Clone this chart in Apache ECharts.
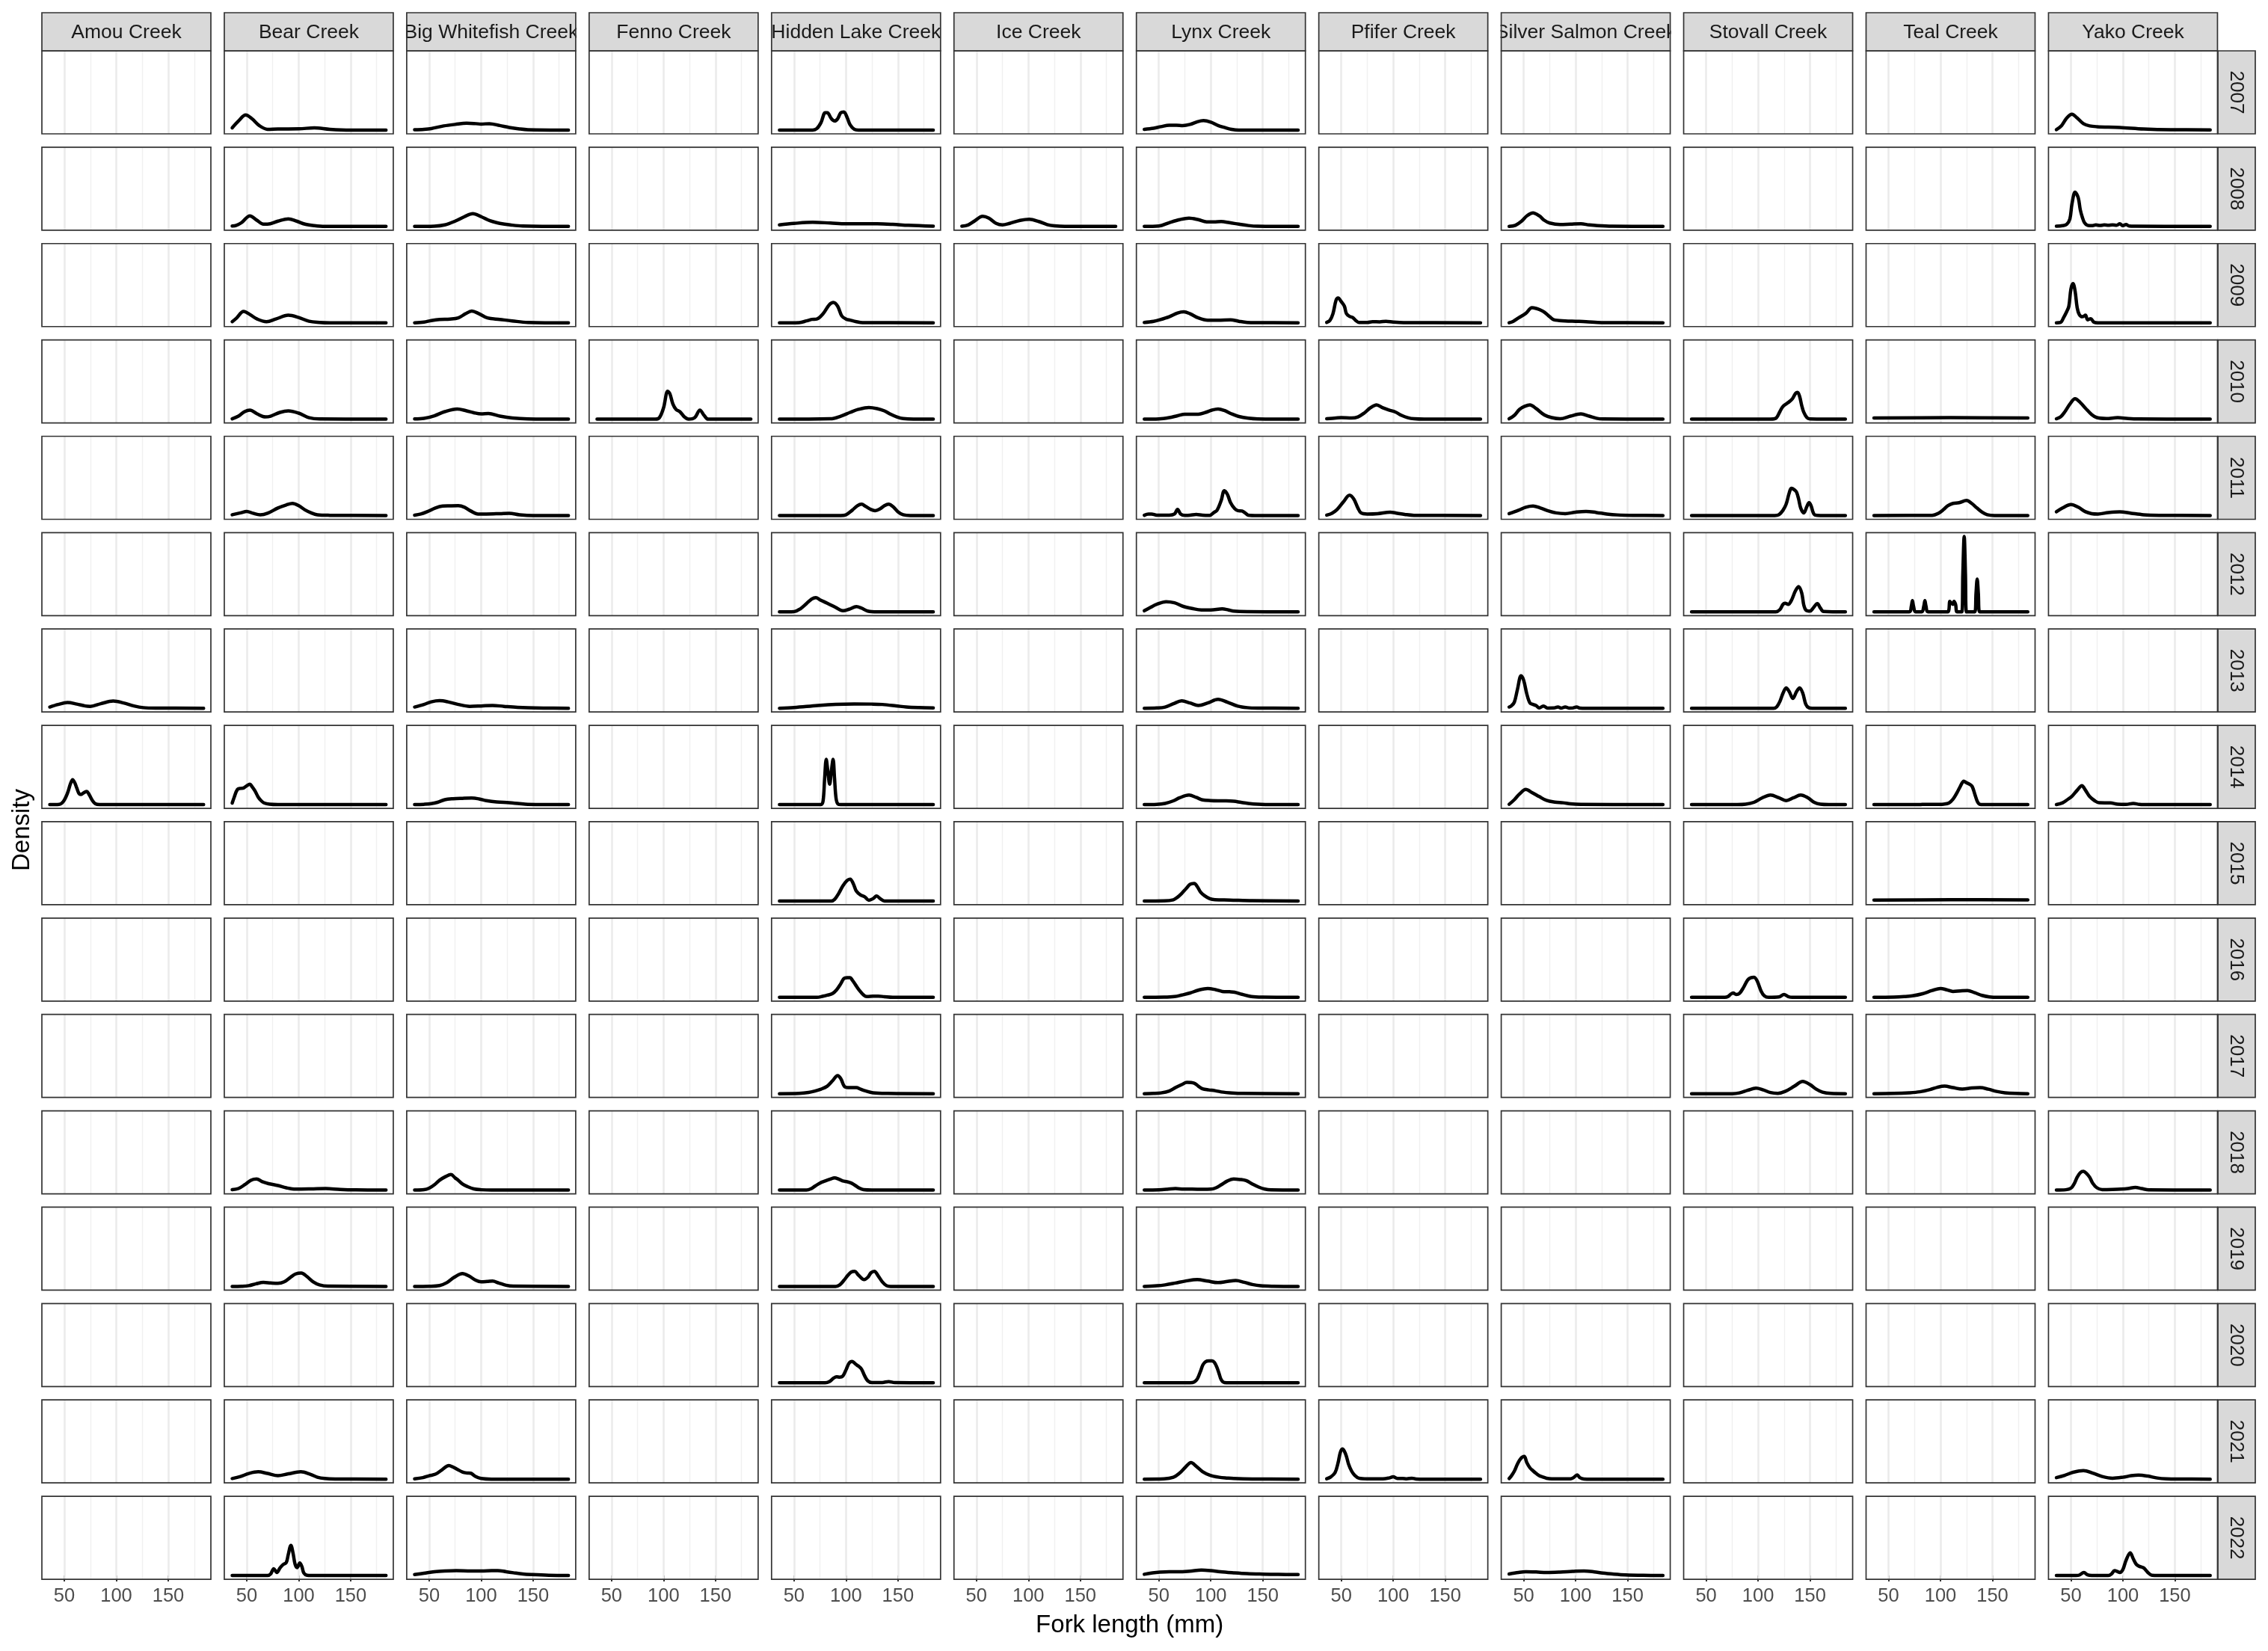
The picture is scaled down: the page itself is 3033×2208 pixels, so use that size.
<!DOCTYPE html>
<html><head><meta charset="utf-8">
<script src="https://cdn.jsdelivr.net/npm/echarts@6/dist/echarts.min.js"></script>
<style>html,body{margin:0;padding:0;background:#fff}#chart{width:3033px;height:2208px}</style>
</head><body><div id="chart"></div>
<script>
// ---------- data (y = density relative to the tallest curve) ----------
const creeks = ["Amou Creek","Bear Creek","Big Whitefish Creek","Fenno Creek","Hidden Lake Creek","Ice Creek","Lynx Creek","Pfifer Creek","Silver Salmon Creek","Stovall Creek","Teal Creek","Yako Creek"];
const years = [2007,2008,2009,2010,2011,2012,2013,2014,2015,2016,2017,2018,2019,2020,2021,2022];
const xTicks = [50,100,150];
const xMinorTicks = [75,125,175];

const amouCreek = [
  [2013, [[36,0.016],[44,0.05],[53,0.075],[62,0.055],[70,0.03],[75,0.025],[85,0.06],[97,0.095],[107,0.07],[117,0.03],[126,0.008],[140,0.002],[184,0]]],
  [2014, [[36,0],[45,0.003],[49,0.04],[53,0.15],[56,0.28],[58,0.33],[60,0.29],[62,0.22],[64,0.15],[66,0.135],[69,0.16],[71.5,0.175],[74,0.13],[77,0.055],[80,0.01],[84,0],[184,0]]]
];
const bearCreek = [
  [2007, [[36,0.03],[42,0.12],[49,0.2],[55,0.15],[62,0.06],[70,0.01],[80,0.015],[100,0.016],[115,0.03],[130,0.01],[150,0],[184,0]]],
  [2008, [[36,0.005],[40,0.015],[45,0.05],[53,0.14],[60,0.08],[66,0.03],[70,0.03],[80,0.07],[90,0.1],[98,0.07],[106,0.03],[115,0.01],[125,0],[184,0]]],
  [2009, [[36,0.015],[40,0.06],[47,0.15],[53,0.11],[60,0.05],[69,0.015],[78,0.05],[90,0.1],[100,0.07],[110,0.02],[120,0.005],[130,0],[184,0]]],
  [2010, [[36,0.005],[42,0.04],[48,0.1],[53,0.12],[60,0.07],[68,0.03],[73,0.04],[82,0.09],[90,0.11],[100,0.08],[110,0.02],[120,0.003],[184,0]]],
  [2011, [[36,0.01],[44,0.035],[50,0.055],[56,0.03],[63,0.01],[70,0.03],[80,0.1],[88,0.14],[94,0.16],[100,0.13],[106,0.075],[112,0.035],[118,0.01],[130,0.003],[184,0]]],
  [2014, [[36,0.02],[38,0.1],[41,0.2],[44,0.215],[47,0.22],[50,0.25],[53,0.27],[55,0.24],[58,0.18],[61,0.1],[64,0.05],[67,0.02],[72,0.005],[80,0],[184,0]]],
  [2018, [[36,0.005],[42,0.02],[48,0.07],[54,0.13],[59.5,0.146],[65,0.11],[71,0.085],[80,0.06],[88,0.03],[97,0.012],[112,0.015],[126,0.02],[140,0.008],[155,0.002],[184,0]]],
  [2019, [[36,0],[45,0.002],[52,0.01],[59,0.035],[66,0.053],[73,0.045],[80,0.04],[86,0.06],[92,0.12],[97,0.165],[102.5,0.178],[108,0.13],[114,0.06],[120,0.02],[128,0.003],[184,0]]],
  [2021, [[36,0.008],[44,0.035],[52,0.075],[61,0.097],[70,0.075],[80,0.045],[90,0.07],[102,0.097],[111,0.065],[118,0.025],[125,0.008],[135,0.002],[184,0]]],
  [2022, [[36,0],[70,0],[73,0.02],[76,0.09],[79,0.04],[82,0.1],[85,0.145],[88,0.17],[90,0.28],[92.5,0.4],[94.5,0.3],[96.5,0.15],[98.5,0.105],[101,0.165],[103,0.12],[105,0.03],[108,0.003],[112,0],[184,0]]]
];
const bigWhitefishCreek = [
  [2007, [[36,0.005],[45,0.01],[52,0.02],[64,0.055],[75,0.075],[86,0.09],[95,0.085],[100,0.08],[108,0.085],[118,0.06],[127,0.035],[137,0.015],[145,0.005],[184,0]]],
  [2008, [[36,0],[55,0.003],[65,0.02],[75,0.07],[84,0.13],[92,0.17],[100,0.13],[106,0.09],[111,0.065],[118,0.04],[128,0.02],[140,0.005],[184,0]]],
  [2009, [[36,0],[45,0.01],[52,0.03],[60,0.045],[70,0.05],[78,0.065],[85,0.12],[91,0.155],[98,0.12],[106,0.065],[118,0.045],[130,0.025],[145,0.005],[184,0]]],
  [2010, [[36,0.003],[45,0.01],[55,0.045],[65,0.1],[77,0.135],[86,0.11],[93,0.085],[100,0.07],[107,0.075],[118,0.04],[130,0.015],[145,0.003],[184,0]]],
  [2011, [[36,0.005],[42,0.02],[48,0.05],[56,0.1],[63,0.125],[70,0.128],[78,0.13],[84,0.11],[90,0.06],[97,0.02],[105,0.02],[118,0.025],[127,0.03],[137,0.01],[150,0],[184,0]]],
  [2013, [[36,0.016],[45,0.05],[52,0.085],[60,0.1],[68,0.085],[78,0.05],[89,0.025],[100,0.03],[111,0.037],[122,0.025],[135,0.012],[145,0.006],[160,0.002],[184,0]]],
  [2014, [[36,0],[45,0.004],[52,0.012],[58,0.03],[65,0.065],[73,0.078],[82,0.083],[91,0.086],[98,0.075],[105,0.053],[115,0.035],[127,0.025],[137,0.012],[145,0.004],[184,0]]],
  [2018, [[36,0],[45,0.005],[50,0.025],[55,0.07],[60,0.13],[66,0.18],[71,0.205],[75,0.16],[78,0.13],[82,0.08],[87,0.045],[93,0.015],[100,0.004],[110,0],[184,0]]],
  [2019, [[36,0],[50,0.002],[60,0.012],[67,0.05],[74,0.12],[82,0.17],[88,0.14],[95,0.08],[100,0.06],[106,0.065],[111,0.07],[117,0.045],[124,0.015],[131,0.003],[184,0]]],
  [2021, [[36,0.004],[44,0.02],[50,0.045],[56,0.065],[62,0.12],[69,0.18],[73,0.16],[77,0.13],[82,0.095],[86,0.082],[90,0.078],[94,0.04],[100,0.008],[110,0],[184,0]]],
  [2022, [[36,0.012],[45,0.03],[55,0.05],[65,0.06],[76,0.065],[90,0.06],[100,0.06],[110,0.064],[116,0.065],[124,0.05],[131,0.036],[140,0.02],[149,0.012],[165,0.003],[184,0]]]
];
const fennoCreek = [
  [2010, [[36,0],[92,0],[96,0.02],[100,0.15],[104,0.37],[106,0.34],[109,0.2],[112,0.13],[116,0.095],[120,0.03],[124,0],[130,0.02],[135,0.12],[139,0.05],[143,0],[184,0]]]
];
const hiddenLakeCreek = [
  [2007, [[36,0],[68,0],[72,0.02],[76,0.1],[80,0.23],[82,0.23],[86,0.15],[89,0.12],[92,0.15],[95,0.23],[98,0.24],[101,0.17],[104,0.07],[108,0.01],[112,0],[184,0]]],
  [2008, [[36,0.02],[50,0.04],[68,0.055],[85,0.045],[100,0.035],[130,0.035],[145,0.028],[160,0.015],[184,0.003]]],
  [2009, [[36,0],[55,0.003],[62,0.025],[67,0.045],[72,0.05],[78,0.12],[84,0.24],[88,0.27],[92,0.22],[96,0.09],[100,0.05],[104,0.035],[110,0.015],[116,0.003],[184,0]]],
  [2010, [[36,0],[85,0.005],[95,0.04],[104,0.09],[112,0.13],[122,0.155],[130,0.14],[137,0.11],[143,0.065],[149,0.03],[155,0.008],[165,0],[184,0]]],
  [2011, [[36,0],[95,0],[100,0.01],[106,0.07],[111,0.13],[115,0.15],[119,0.12],[124,0.08],[128,0.065],[133,0.09],[137,0.13],[141,0.15],[145,0.12],[150,0.05],[155,0.01],[162,0],[184,0]]],
  [2012, [[36,0],[50,0.003],[56,0.04],[62,0.11],[67,0.17],[71,0.19],[75,0.16],[82,0.115],[90,0.06],[97,0.015],[103,0.035],[110,0.07],[115,0.05],[121,0.01],[130,0],[184,0]]],
  [2013, [[36,0],[50,0.01],[73,0.037],[90,0.052],[108,0.057],[125,0.055],[135,0.05],[148,0.032],[158,0.016],[170,0.008],[184,0.004]]],
  [2014, [[36,0],[76,0],[78,0.05],[79.5,0.35],[81,0.6],[82.5,0.45],[84.3,0.27],[86,0.45],[87.6,0.6],[89,0.35],[90.5,0.08],[92.5,0.005],[95,0],[184,0]]],
  [2015, [[36,0],[86,0],[89,0.02],[93,0.1],[97,0.2],[101,0.27],[104,0.29],[107,0.23],[110,0.13],[114,0.08],[118,0.055],[122,0.01],[126,0.03],[129.5,0.065],[133,0.03],[137,0],[184,0]]],
  [2016, [[36,0],[72,0],[78,0.015],[82,0.028],[87,0.05],[91,0.1],[95,0.18],[98,0.25],[101,0.26],[104,0.26],[106,0.23],[109,0.17],[113,0.09],[117,0.03],[120,0.01],[126,0.015],[131,0.016],[137,0.008],[145,0],[184,0]]],
  [2017, [[36,0],[55,0.004],[64,0.016],[70,0.035],[76,0.06],[82,0.1],[87,0.17],[92,0.24],[95,0.2],[99,0.09],[104,0.08],[110,0.08],[114,0.06],[118,0.04],[126,0.012],[140,0.003],[184,0]]],
  [2018, [[36,0],[62,0],[66,0.015],[70,0.05],[75,0.093],[80,0.12],[85,0.145],[89,0.162],[93,0.145],[97,0.12],[101,0.11],[105,0.093],[109,0.06],[113,0.025],[117,0.005],[125,0],[184,0]]],
  [2019, [[36,0],[90,0],[94,0.02],[98,0.08],[102,0.15],[105,0.19],[108.5,0.2],[112,0.15],[117.5,0.09],[121,0.12],[124,0.18],[127.3,0.2],[131,0.14],[135,0.06],[139,0.01],[143,0],[184,0]]],
  [2020, [[36,0],[80,0],[84,0.015],[88,0.06],[91,0.08],[94,0.075],[97,0.09],[100,0.17],[103,0.26],[106,0.283],[109,0.25],[112,0.22],[115,0.18],[118,0.09],[121,0.025],[125,0.003],[135,0.003],[141,0.016],[147,0.002],[184,0]]]
];
const iceCreek = [
  [2008, [[36,0.003],[42,0.02],[48,0.07],[56,0.135],[62,0.11],[69,0.04],[75,0.02],[82,0.04],[92,0.08],[101,0.095],[110,0.065],[118,0.025],[125,0.008],[135,0],[184,0]]]
];
const lynxCreek = [
  [2007, [[36,0.01],[45,0.025],[52,0.045],[60,0.065],[67,0.065],[73,0.06],[80,0.075],[87,0.11],[93,0.125],[100,0.105],[107,0.06],[113,0.035],[120,0.01],[127,0],[184,0]]],
  [2008, [[36,0],[50,0.005],[60,0.05],[70,0.09],[79,0.11],[88,0.09],[96,0.06],[103,0.06],[110,0.065],[118,0.05],[127,0.03],[136,0.012],[145,0.003],[184,0]]],
  [2009, [[36,0.005],[45,0.02],[51,0.04],[60,0.08],[68,0.13],[74,0.145],[80,0.12],[88,0.065],[97,0.035],[107,0.035],[119,0.04],[127,0.02],[135,0.005],[145,0.002],[184,0]]],
  [2010, [[36,0],[50,0.003],[60,0.02],[68,0.045],[75,0.065],[88,0.065],[95,0.09],[101,0.12],[107,0.135],[113,0.115],[120,0.07],[127,0.035],[136,0.012],[145,0.003],[184,0]]],
  [2011, [[36,0.003],[40,0.02],[43,0.02],[48,0.005],[60,0.005],[65,0.02],[68,0.08],[71,0.02],[75,0.003],[80,0.005],[86,0.015],[92,0.005],[99,0.003],[103,0.04],[106,0.07],[110,0.2],[113,0.33],[116,0.28],[119,0.17],[123,0.09],[126,0.065],[130,0.06],[133,0.035],[136,0.005],[145,0],[184,0]]],
  [2012, [[36,0.015],[42,0.06],[48,0.1],[57,0.135],[65,0.12],[73,0.075],[82,0.045],[91,0.025],[100,0.025],[111,0.04],[117,0.025],[122,0.01],[135,0.003],[184,0]]],
  [2013, [[36,0],[48,0.004],[56,0.016],[64,0.06],[72,0.098],[80,0.07],[88,0.037],[97,0.07],[107,0.118],[116,0.08],[126,0.028],[135,0.008],[145,0.002],[184,0]]],
  [2014, [[36,0],[48,0.003],[56,0.016],[64,0.05],[70,0.09],[79,0.127],[86,0.095],[92,0.062],[100,0.053],[112,0.05],[122,0.045],[129,0.03],[136,0.016],[145,0.005],[160,0],[184,0]]],
  [2015, [[36,0],[55,0.002],[64,0.016],[68,0.05],[72,0.1],[76,0.16],[80,0.22],[84,0.233],[87,0.19],[90,0.12],[94,0.07],[99,0.03],[104,0.016],[118,0.012],[140,0.004],[184,0]]],
  [2016, [[36,0],[55,0.002],[65,0.01],[72,0.03],[80,0.057],[88,0.095],[97,0.118],[105,0.1],[111,0.078],[118,0.074],[123,0.068],[130,0.04],[139,0.01],[150,0.002],[184,0]]],
  [2017, [[36,0],[45,0.003],[52,0.01],[60,0.035],[66,0.08],[72,0.12],[77,0.15],[84,0.14],[88,0.1],[92,0.065],[98,0.05],[104,0.04],[112,0.02],[118,0.012],[130,0.003],[184,0]]],
  [2018, [[36,0],[50,0.003],[58,0.01],[66,0.02],[74,0.012],[82,0.012],[92,0.01],[100,0.012],[105,0.03],[110,0.07],[116,0.12],[122,0.146],[128,0.14],[134,0.125],[140,0.08],[146,0.04],[152,0.012],[158,0.002],[184,0]]],
  [2019, [[36,0],[48,0.008],[56,0.02],[66,0.045],[76,0.072],[87,0.09],[97,0.07],[107,0.05],[116,0.065],[124,0.077],[132,0.055],[140,0.025],[148,0.008],[160,0.002],[184,0]]],
  [2020, [[36,0],[80,0],[84,0.01],[87,0.05],[90,0.15],[92.5,0.24],[95,0.28],[98,0.29],[101,0.29],[103.5,0.27],[106,0.2],[108,0.12],[110,0.04],[113,0.003],[118,0],[184,0]]],
  [2021, [[36,0],[55,0.003],[64,0.024],[70,0.08],[75,0.15],[81,0.22],[86,0.17],[92,0.1],[99,0.053],[108,0.025],[116,0.014],[122,0.008],[140,0.002],[184,0]]],
  [2022, [[36,0.016],[44,0.035],[51,0.045],[60,0.05],[69,0.049],[80,0.058],[91,0.073],[100,0.065],[109,0.049],[122,0.035],[135,0.024],[150,0.018],[165,0.014],[184,0.012]]]
];
const pfiferCreek = [
  [2009, [[36,0.005],[39,0.03],[42,0.12],[45,0.3],[47,0.33],[50,0.28],[53,0.22],[55,0.12],[58,0.085],[61,0.07],[64,0.03],[67,0.005],[75,0.005],[80,0.015],[87,0.012],[93,0.02],[100,0.01],[110,0.003],[184,0]]],
  [2010, [[36,0.005],[45,0.015],[50,0.02],[60,0.015],[66,0.03],[72,0.08],[78,0.15],[84,0.19],[90,0.15],[96,0.12],[102,0.095],[108,0.05],[114,0.02],[120,0.005],[130,0],[184,0]]],
  [2011, [[36,0.005],[41,0.03],[46,0.08],[52,0.18],[58,0.27],[62,0.22],[66,0.1],[69,0.035],[75,0.02],[85,0.025],[97,0.045],[104,0.03],[111,0.015],[120,0.003],[184,0]]],
  [2021, [[36,0.004],[40,0.03],[44,0.085],[47,0.22],[49,0.35],[51,0.4],[53,0.37],[55,0.3],[57,0.2],[60,0.105],[63,0.05],[67,0.012],[75,0.004],[90,0.004],[96,0.015],[100,0.03],[104,0.008],[109,0.01],[113,0.004],[118,0.012],[122,0.002],[130,0],[184,0]]]
];
const silverSalmonCreek = [
  [2008, [[36,0],[42,0.015],[48,0.07],[53,0.14],[59,0.18],[65,0.14],[70,0.08],[75,0.045],[85,0.025],[95,0.03],[105,0.035],[113,0.02],[121,0.01],[135,0.002],[184,0]]],
  [2009, [[36,0],[40,0.02],[45,0.065],[52,0.125],[58,0.2],[62,0.19],[66,0.17],[70,0.14],[75,0.08],[79,0.04],[90,0.025],[100,0.02],[110,0.015],[125,0.003],[184,0]]],
  [2010, [[36,0.005],[41,0.05],[46,0.13],[51,0.17],[56,0.19],[62,0.14],[70,0.055],[77,0.02],[85,0.005],[95,0.04],[105,0.07],[113,0.04],[120,0.012],[126,0.003],[184,0]]],
  [2011, [[36,0.025],[45,0.07],[52,0.11],[59,0.125],[66,0.1],[74,0.06],[81,0.035],[90,0.025],[100,0.045],[110,0.055],[120,0.04],[130,0.02],[140,0.008],[155,0.002],[184,0]]],
  [2013, [[36,0.016],[38,0.03],[41,0.08],[44,0.25],[47.5,0.43],[50,0.37],[53,0.19],[56,0.07],[59,0.05],[62,0.035],[65,0.003],[69,0.03],[73,0.002],[79,0.003],[83,0.016],[86,0.002],[90,0.016],[94,0.002],[97,0.003],[101,0.016],[104,0.002],[110,0],[184,0]]],
  [2014, [[36,0.004],[41,0.065],[46,0.14],[52,0.2],[58,0.16],[65,0.106],[72,0.055],[80,0.033],[88,0.024],[95,0.01],[105,0.003],[184,0]]],
  [2021, [[36,0.008],[38,0.04],[41,0.105],[44,0.2],[47,0.27],[50.5,0.3],[53,0.22],[56,0.15],[59,0.11],[62,0.075],[65,0.045],[68,0.03],[72,0.012],[77,0.004],[95,0.003],[98,0.02],[101.5,0.057],[104,0.02],[108,0.002],[115,0],[184,0]]],
  [2022, [[36,0.02],[45,0.04],[52,0.049],[62,0.046],[72,0.04],[85,0.045],[97,0.054],[108,0.06],[118,0.048],[126,0.032],[137,0.018],[148,0.008],[165,0.002],[184,0]]]
];
const stovallCreek = [
  [2010, [[36,0],[112,0],[117,0.01],[121,0.1],[124,0.17],[129,0.22],[133,0.27],[136,0.34],[138,0.355],[140,0.3],[142,0.18],[144,0.09],[147,0.02],[150,0.003],[184,0]]],
  [2011, [[36,0],[116,0],[120,0.01],[124,0.07],[127,0.15],[130,0.3],[132,0.36],[135,0.34],[137,0.31],[139,0.22],[141,0.1],[144,0.035],[147,0.12],[149,0.17],[151,0.13],[153,0.04],[155,0.005],[160,0],[184,0]]],
  [2012, [[36,0],[117,0],[121,0.03],[124,0.1],[126,0.115],[129,0.1],[132,0.15],[136,0.28],[139,0.335],[142,0.25],[144,0.09],[146,0.025],[150,0.01],[153,0.05],[157,0.11],[160,0.05],[163,0.005],[184,0]]],
  [2013, [[36,0],[115,0],[118,0.02],[121,0.09],[124,0.2],[127,0.27],[130,0.22],[133.5,0.13],[137,0.22],[140,0.27],[143,0.2],[146,0.05],[149,0.005],[152,0],[184,0]]],
  [2014, [[36,0],[80,0],[88,0.005],[96,0.03],[104,0.09],[112,0.127],[120,0.09],[127,0.053],[134,0.09],[141,0.127],[148,0.09],[154,0.03],[160,0.005],[168,0],[184,0]]],
  [2016, [[36,0],[68,0],[71,0.01],[74,0.045],[76,0.057],[79,0.037],[82,0.05],[86,0.13],[90,0.23],[93,0.26],[96,0.265],[99,0.22],[103,0.08],[106,0.02],[110,0],[120,0.005],[125,0.037],[129,0.01],[133,0],[184,0]]],
  [2017, [[36,0],[75,0],[82,0.01],[90,0.045],[98,0.073],[105,0.05],[112,0.015],[119,0.005],[126,0.03],[135,0.1],[143,0.163],[150,0.12],[156,0.06],[162,0.02],[170,0.003],[184,0]]]
];
const tealCreek = [
  [2010, [[36,0.015],[110,0.02],[184,0.015]]],
  [2011, [[36,0],[92,0.003],[98,0.03],[103,0.08],[107,0.13],[112,0.16],[118,0.17],[125,0.2],[130,0.16],[135,0.1],[140,0.045],[145,0.01],[152,0],[184,0]]],
  [2012, [[36,0],[70,0],[72,0.08],[73,0.15],[74,0.08],[76,0],[82,0],[84,0.08],[85,0.15],[86,0.08],[88,0],[107,0],[109,0.14],[110,0.12],[112,0.1],[113,0.14],[114.5,0.1],[116,0],[120.5,0],[121.5,0.5],[122.8,1.0],[124,0.5],[125,0],[133,0],[134.2,0.25],[135.3,0.435],[136.4,0.25],[137.6,0],[184,0]]],
  [2014, [[36,0],[80,0],[85,0.004],[90,0.002],[98,0.003],[103,0.006],[108,0.02],[112,0.07],[116,0.16],[119,0.24],[122.5,0.31],[125,0.29],[128,0.27],[130.5,0.24],[133,0.14],[135.5,0.04],[138,0.003],[145,0],[184,0]]],
  [2015, [[36,0.012],[110,0.016],[184,0.013]]],
  [2016, [[36,0],[55,0.003],[65,0.01],[73,0.02],[82,0.045],[92,0.09],[100,0.118],[106,0.1],[112,0.078],[119,0.085],[126,0.09],[133,0.06],[140,0.025],[147,0.006],[155,0],[184,0]]],
  [2017, [[36,0],[55,0.003],[70,0.012],[80,0.025],[90,0.055],[97,0.085],[104,0.1],[112,0.08],[121,0.06],[130,0.075],[138,0.08],[146,0.06],[154,0.03],[162,0.012],[172,0.003],[184,0]]]
];
const yakoCreek = [
  [2007, [[36,0.005],[41,0.06],[46,0.16],[51,0.21],[56,0.16],[62,0.085],[68,0.055],[75,0.045],[97,0.035],[120,0.015],[146,0.005],[184,0.003]]],
  [2008, [[36,0.003],[42,0.01],[46,0.03],[49,0.1],[51,0.3],[54,0.455],[57,0.38],[59,0.22],[61,0.12],[63,0.05],[66,0.015],[70,0.01],[74,0.02],[78,0.012],[82,0.02],[86,0.015],[90,0.02],[94,0.015],[97,0.035],[100,0.01],[103,0.025],[106,0.005],[112,0.003],[184,0]]],
  [2009, [[36,0],[40,0.005],[43,0.07],[46,0.15],[48,0.22],[50,0.45],[52,0.52],[54,0.42],[56,0.2],[58,0.11],[61,0.08],[64,0.1],[66,0.04],[69,0.055],[72,0.01],[76,0],[184,0]]],
  [2010, [[36,0.005],[40,0.03],[44,0.095],[49,0.2],[54,0.27],[59,0.22],[64,0.145],[70,0.06],[75,0.02],[84,0.008],[95,0.02],[105,0.008],[115,0.002],[184,0]]],
  [2011, [[36,0.05],[42,0.1],[50,0.145],[57,0.11],[64,0.05],[70,0.025],[76,0.02],[86,0.04],[97,0.05],[108,0.03],[120,0.01],[135,0.003],[184,0]]],
  [2014, [[36,0],[42,0.024],[47,0.07],[51,0.11],[56,0.19],[60.5,0.25],[64,0.19],[68,0.106],[73,0.05],[77,0.024],[88,0.022],[95,0.005],[103,0.003],[110,0.016],[116,0.003],[125,0],[184,0]]],
  [2018, [[36,0],[45,0.004],[50,0.025],[53,0.08],[56,0.17],[59,0.23],[62,0.247],[65,0.22],[68,0.17],[71,0.09],[75,0.03],[80,0.006],[90,0.008],[98,0.012],[105,0.02],[112,0.036],[118,0.02],[125,0.003],[184,0]]],
  [2021, [[36,0.02],[44,0.05],[52,0.09],[62,0.113],[71,0.08],[80,0.035],[90,0.012],[100,0.025],[108,0.045],[115,0.053],[124,0.04],[133,0.015],[142,0.004],[155,0.001],[184,0]]],
  [2022, [[36,0],[55,0],[58,0.005],[62.5,0.04],[66,0.008],[70,0],[86,0],[89,0.02],[92,0.065],[95,0.05],[97,0.04],[100,0.08],[103,0.2],[107,0.3],[110,0.22],[113,0.146],[116,0.12],[120,0.1],[124,0.04],[128,0.003],[134,0],[184,0]]]
];

const curvesByCreek = [amouCreek, bearCreek, bigWhitefishCreek, fennoCreek, hiddenLakeCreek, iceCreek,
  lynxCreek, pfiferCreek, silverSalmonCreek, stovallCreek, tealCreek, yakoCreek];

// ---------- layout / style ----------
const LEFT0 = 56, DX = 243.95, TOP0 = 68, DY = 128.87, PW = 226, PH = 111;
const STRIP_TOP = 17, STRIP_H = 51, RSTRIP_X = 2966, RSTRIP_W = 50;
const FONT = "'Liberation Sans', Arial, Helvetica, sans-serif";
const X_MIN = 28.4, X_MAX = 191, Y_MIN = -0.05, Y_MAX = 1.05;

const grids = [], xAxes = [], yAxes = [], series = [], graphics = [];

years.forEach((yr, r) => {
  creeks.forEach((ck, c) => {
    const i = grids.length;
    const left = LEFT0 + c * DX, top = TOP0 + r * DY;
    const last = r === years.length - 1;
    grids.push({left: left, top: top, width: PW, height: PH, show: false, containLabel: false});
    xAxes.push({
      gridIndex: i, type: 'value', min: X_MIN, max: X_MAX,
      axisLine: {show: false}, splitLine: {show: false},
      axisTick: {show: last, customValues: xTicks, length: 8, lineStyle: {color: '#333333', width: 2}},
      axisLabel: {show: last, customValues: xTicks, fontSize: 25.5, color: '#4d4d4d', margin: 10, fontFamily: FONT}
    });
    yAxes.push({gridIndex: i, type: 'value', min: Y_MIN, max: Y_MAX, show: false});
    series.push({
      type: 'line', xAxisIndex: i, yAxisIndex: i, data: [], silent: true, z: 1, animation: false,
      markLine: {
        silent: true, animation: false, symbol: ['none', 'none'], label: {show: false},
        emphasis: {disabled: true},
        data: xTicks.map(v => ({xAxis: v, lineStyle: {color: '#ebebeb', width: 2.6, type: 'solid'}}))
          .concat(xMinorTicks.map(v => ({xAxis: v, lineStyle: {color: '#f0f0f0', width: 1.4, type: 'solid'}})))
      }
    });
    const entry = curvesByCreek[c].find(e => e[0] === yr);
    if (entry) {
      series.push({
        type: 'line', xAxisIndex: i, yAxisIndex: i, data: entry[1], smooth: 0.35,
        showSymbol: false, symbol: 'none', silent: true, z: 5, animation: false,
        lineStyle: {color: '#000000', width: 4.5, cap: 'round', join: 'round'}
      });
    }
    // panel border (on top)
    graphics.push({type: 'rect', silent: true, z: 50,
      shape: {x: left, y: top, width: PW, height: PH},
      style: {fill: 'none', stroke: '#333333', lineWidth: 1.7}});
  });
});

// top strips
creeks.forEach((ck, c) => {
  const left = LEFT0 + c * DX;
  graphics.push({type: 'rect', silent: true, z: 40,
    shape: {x: left, y: STRIP_TOP, width: PW, height: STRIP_H},
    style: {fill: '#d9d9d9', stroke: 'none'}});
  graphics.push({type: 'text', silent: true, z: 41, x: left + PW / 2, y: STRIP_TOP + STRIP_H / 2 + 1,
    style: {text: ck, fontSize: 26.5, fontFamily: FONT, fill: '#1a1a1a',
      align: 'center', verticalAlign: 'middle', textAlign: 'center', textVerticalAlign: 'middle'}});
  // white masks in the gaps so overflowing strip text is clipped
  graphics.push({type: 'rect', silent: true, z: 42,
    shape: {x: left + PW + 1, y: STRIP_TOP - 6, width: DX - PW - 2, height: STRIP_H + 4},
    style: {fill: '#ffffff', stroke: 'none'}});
  if (c === 0) {
    graphics.push({type: 'rect', silent: true, z: 42,
      shape: {x: 0, y: STRIP_TOP - 6, width: left - 1, height: STRIP_H + 4},
      style: {fill: '#ffffff', stroke: 'none'}});
  }
  graphics.push({type: 'rect', silent: true, z: 43,
    shape: {x: left, y: STRIP_TOP, width: PW, height: STRIP_H},
    style: {fill: 'none', stroke: '#333333', lineWidth: 1.7}});
});

// right strips
years.forEach((yr, r) => {
  const top = TOP0 + r * DY;
  graphics.push({type: 'rect', silent: true, z: 40,
    shape: {x: RSTRIP_X, y: top, width: RSTRIP_W, height: PH},
    style: {fill: '#d9d9d9', stroke: '#333333', lineWidth: 1.7}});
  graphics.push({type: 'text', silent: true, z: 41, x: RSTRIP_X + RSTRIP_W / 2 - 1, y: top + PH / 2,
    rotation: -Math.PI / 2,
    style: {text: String(yr), fontSize: 26, fontFamily: FONT, fill: '#1a1a1a',
      align: 'center', verticalAlign: 'middle', textAlign: 'center', textVerticalAlign: 'middle'}});
});

// axis titles
graphics.push({type: 'text', silent: true, z: 41, x: (LEFT0 + LEFT0 + 11 * DX + PW) / 2, y: 2174,
  style: {text: 'Fork length (mm)', fontSize: 33, fontFamily: FONT, fill: '#000000',
    align: 'center', verticalAlign: 'middle', textAlign: 'center', textVerticalAlign: 'middle'}});
graphics.push({type: 'text', silent: true, z: 41, x: 30, y: 1110, rotation: Math.PI / 2,
  style: {text: 'Density', fontSize: 33, fontFamily: FONT, fill: '#000000',
    align: 'center', verticalAlign: 'middle', textAlign: 'center', textVerticalAlign: 'middle'}});

const chart = echarts.init(document.getElementById('chart'), null, {renderer: 'canvas', width: 3033, height: 2208});
chart.setOption({
  animation: false,
  backgroundColor: '#ffffff',
  grid: grids, xAxis: xAxes, yAxis: yAxes, series: series,
  graphic: {elements: graphics}
});
</script></body></html>
